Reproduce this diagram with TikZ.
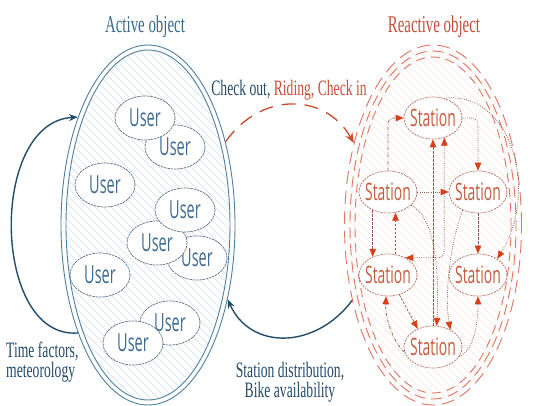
\documentclass[tikz,border=0pt]{standalone}
\usepackage{fontspec}
\setmainfont{Liberation Serif}
\newfontfamily\serifc[FakeStretch=0.62]{Liberation Serif}
\newfontfamily\sansc[FakeStretch=0.58]{Open Sans}
\usetikzlibrary{shapes.geometric,arrows.meta}
\definecolor{bline}{HTML}{4F80A0}
\definecolor{bdark}{HTML}{244C6B}
\definecolor{btext}{HTML}{3C6A8C}
\definecolor{uline}{HTML}{5B7388}
\definecolor{utext}{HTML}{3E6C94}
\definecolor{hatchb}{HTML}{D2E0EA}
\definecolor{hatchr}{HTML}{FAE8E3}
\definecolor{rline}{HTML}{E07560}
\definecolor{rtext}{HTML}{C4503A}
\definecolor{rarrow}{HTML}{CC4A2E}
\definecolor{stline}{HTML}{B8705F}
\definecolor{stext}{HTML}{C85A3C}
\definecolor{sconn}{HTML}{8E5A4E}
\definecolor{shead}{HTML}{D8401C}
\newcommand\stn{\makebox[0pt]{Station}}
\tikzset{
  user/.style={ellipse, draw=uline, line width=0.7pt, dash pattern=on 2.5pt off 0.8pt, fill=white,
    minimum width=60pt, minimum height=44pt, inner sep=0pt,
    font=\sansc\fontsize{25}{25}\selectfont, text=utext},
  station/.style={ellipse, draw=stline, line width=0.7pt, dash pattern=on 2pt off 1pt,
    fill=white, minimum width=58pt, minimum height=42pt, inner sep=0pt,
    font=\sansc\fontsize{24}{24}\selectfont, text=stext},
  titlelab/.style={font=\serifc\fontsize{24}{24}\selectfont, inner sep=0pt},
  sidelab/.style={font=\serifc\fontsize{22}{20}\selectfont, inner sep=0pt},
  shd/.tip={Triangle[length=8pt,width=6.5pt,color=shead]},
  sarr/.style={draw=sconn, line width=0.75pt, -shd},
  sdash/.style={sarr, dash pattern=on 2.5pt off 1.5pt},
  sdot/.style={sarr, dash pattern=on 0.8pt off 1.4pt},
  sdd/.style={sarr, dash pattern=on 3pt off 1.5pt on 0.8pt off 1.5pt},
  bigblue/.style={draw=bdark, line width=1.4pt, -{Stealth[length=9pt,width=7pt]}},
  bigred/.style={draw=rarrow, line width=1.3pt, dash pattern=on 14pt off 9pt,
    -{Stealth[length=10pt,width=8pt,color=rarrow]}}
}
\begin{document}
\begin{tikzpicture}[x=1pt,y=-1pt]
\useasboundingbox (0,0) rectangle (538,406);
\fill[white] (0,0) rectangle (538,406);

% ---------- left: active object ----------
\begin{scope}
  \clip (148,225) ellipse [x radius=82, y radius=175];
  \foreach \i in {-320,-312,...,250} \draw[hatchb, line width=0.45pt] (\i,40) -- ++(370,370);
\end{scope}
\node[ellipse, draw=bline, line width=0.9pt, minimum width=174pt, minimum height=360pt, inner sep=0pt] (L) at (148,225) {};
\draw[bline, line width=0.9pt] (148,225) ellipse [x radius=82, y radius=175];

\node[user] (u2) at (175,147) {User};
\node[user] (u1) at (145,118) {User};
\node[user] (u3) at (105,185) {User};
\node[user] (u6) at (197,258) {User};
\node[user] (u5) at (157,243) {User};
\node[user] (u4) at (185,210) {User};
\node[user] (u7) at (100,275) {User};
\node[user] (u8) at (170,323) {User};
\node[user] (u9) at (133,343) {User};

\node[titlelab, text=btext] (ta) at (145,27) {Active object};

% ---------- right: reactive object ----------
\begin{scope}
  \clip (433,225) ellipse [x radius=86, y radius=178];
  \foreach \i in {-40,-32,...,530} \draw[hatchr, line width=0.45pt] (\i,40) -- ++(370,370);
\end{scope}
\node[ellipse, draw=rline, line width=0.9pt, dash pattern=on 13pt off 7pt, minimum width=177pt, minimum height=360pt, inner sep=0pt] (R) at (433,225) {};
\draw[rline, line width=0.9pt, dash pattern=on 11pt off 6pt, dash phase=5pt] (433,225) ellipse [x radius=83, y radius=174];
\draw[rline, line width=0.9pt, dash pattern=on 9pt off 6pt, dash phase=3pt] (433,225) ellipse [x radius=78, y radius=168];

\node[station] (S1) at (433,118) {\stn};
\node[station] (S2) at (388,192) {\stn};
\node[station] (S3) at (478,192) {\stn};
\node[station] (S4) at (388,275) {\stn};
\node[station] (S5) at (478,275) {\stn};
\node[station] (S6) at (433,347) {\stn};

\node[titlelab, text=rtext] (tr) at (434,27) {Reactive object};

% station connectors
\draw[sdd, rounded corners=6pt] (S2.north) |- (S1.west);
\draw[sdot, rounded corners=6pt] (S1.east) -| (S3.north);
\draw[sdot] (S1.60) .. controls (510,90) and (540,190) .. (S5.40);
\draw[sdash] (S3.south) -- (S5.north);
\draw[sdot] (S2.east) -- (S3.west);
\draw[sdash] (S6.north) -- (S1.south);
\draw[sdot] (S2.-30) .. controls (430,215) and (440,250) .. (S6.80);
\draw[sdot, shd-shd, rounded corners=6pt] (S1.-60) |- (S4.45);
\draw[sdash] (S2.-130) -- (S4.130);
\draw[sdash] (S4.70) -- (S2.-70);
\draw[sdash] (S4.-60) -- (S6.130);
\draw[sdd] (S6.190) .. controls (395,345) and (385,320) .. (S4.-95);
\draw[sdot] (S3.-130) .. controls (448,250) and (445,300) .. (S6.45);
\draw[sdot] (S6.-20) .. controls (475,350) and (478,320) .. (S5.south);

% ---------- big connectors ----------
\draw[bigred] (L.47) .. controls (260,92) and (325,92) .. (R.134);
\draw[bigblue] (R.223) .. controls (315,350) and (250,350) .. (L.-43);
\draw[bigblue] (L.237) .. controls (-8,340) and (-12,122) .. (L.123);

\node[sidelab] (tc) at (289,90) {\textcolor{bdark}{Check out,} \textcolor{rtext}{Riding, Check in}};
\node[sidelab, text=bdark, align=left, anchor=west] (tt) at (6,362) {Time factors,\\meteorology};
\node[sidelab, text=bdark, align=center] (ts) at (290,382) {Station distribution,\\Bike availability};
\end{tikzpicture}
\end{document}
